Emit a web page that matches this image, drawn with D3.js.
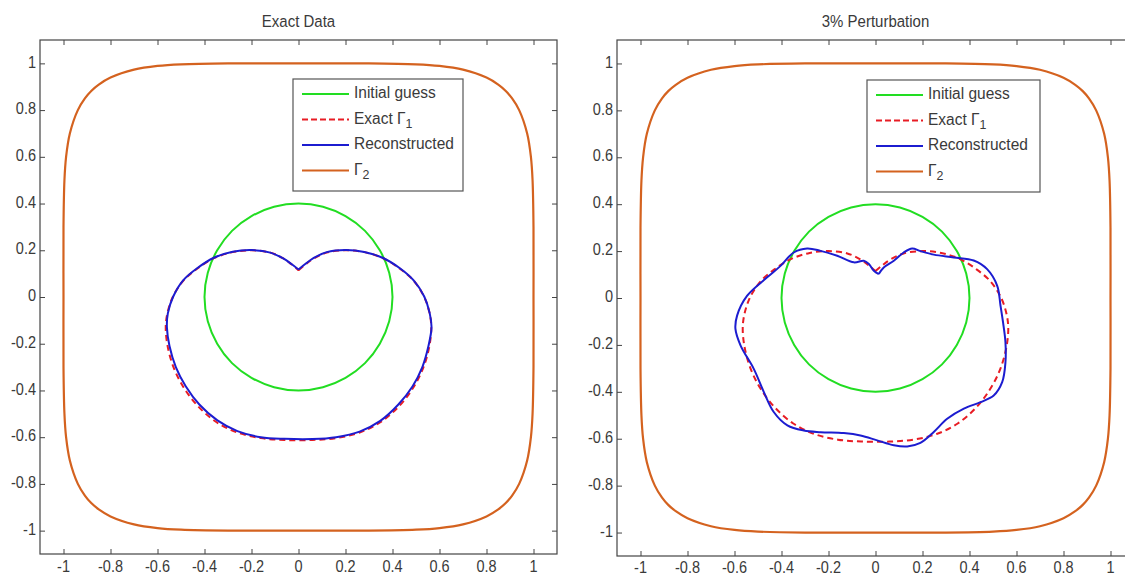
<!DOCTYPE html>
<html>
<head>
<meta charset="utf-8">
<script src="https://cdn.jsdelivr.net/npm/d3@7"></script>
<style>
html,body{margin:0;padding:0;background:#fff;}
svg{display:block;}
text{font-family:"Liberation Sans",Arial,Helvetica,sans-serif;fill:#3a3a3a;}
</style>
</head>
<body>
<svg id="chart" width="1125" height="576"></svg>
<script>
// ---------- data ----------
const panelTitles = ["Exact Data", "3% Perturbation"];
const tickValues = [-1, -0.8, -0.6, -0.4, -0.2, 0, 0.2, 0.4, 0.6, 0.8, 1];
const tickLabels = ["-1", "-0.8", "-0.6", "-0.4", "-0.2", "0", "0.2", "0.4", "0.6", "0.8", "1"];
const legendLabels = ["Initial guess", "Exact Γ|1", "Reconstructed", "Γ|2"];

const initialGuess = [
  [0.4,0],[0.386,0.104],[0.346,0.2],[0.283,0.283],[0.2,0.346],[0.104,0.386],
  [0,0.4],[-0.104,0.386],[-0.2,0.346],[-0.283,0.283],[-0.346,0.2],[-0.386,0.104],
  [-0.4,0],[-0.386,-0.104],[-0.346,-0.2],[-0.283,-0.283],[-0.2,-0.346],[-0.104,-0.386],
  [0,-0.4],[0.104,-0.386],[0.2,-0.346],[0.283,-0.283],[0.346,-0.2],[0.386,-0.104]
];

const gamma2 = [
  [1.00,0.00],[1.00,0.30],[0.996,0.50],[0.989,0.60],[0.973,0.70],[0.939,0.80],[0.909,0.85],
  [0.882,0.882],[0.85,0.909],[0.80,0.939],[0.70,0.973],[0.60,0.989],[0.50,0.996],[0.30,1.00],
  [0.00,1.00],[-0.30,1.00],[-0.50,0.996],[-0.60,0.989],[-0.70,0.973],[-0.80,0.939],[-0.85,0.909],
  [-0.882,0.882],[-0.909,0.85],[-0.939,0.80],[-0.973,0.70],[-0.989,0.60],[-0.996,0.50],[-1.00,0.30],
  [-1.00,0.00],[-1.00,-0.30],[-0.996,-0.50],[-0.989,-0.60],[-0.973,-0.70],[-0.939,-0.80],[-0.909,-0.85],
  [-0.882,-0.882],[-0.85,-0.909],[-0.80,-0.939],[-0.70,-0.973],[-0.60,-0.989],[-0.50,-0.996],[-0.30,-1.00],
  [0.00,-1.00],[0.30,-1.00],[0.50,-0.996],[0.60,-0.989],[0.70,-0.973],[0.80,-0.939],[0.85,-0.909],
  [0.882,-0.882],[0.909,-0.85],[0.939,-0.80],[0.973,-0.70],[0.989,-0.60],[0.996,-0.50],[1.00,-0.30]
];

const exactGamma1 = [
  [0.00,0.115],[0.03,0.140],[0.065,0.165],[0.12,0.190],[0.20,0.200],[0.28,0.192],[0.36,0.166],
  [0.43,0.122],[0.49,0.070],[0.535,0.000],[0.558,-0.07],[0.565,-0.13],[0.557,-0.21],[0.532,-0.30],
  [0.49,-0.385],[0.43,-0.465],[0.35,-0.535],[0.26,-0.580],[0.16,-0.604],[0.06,-0.612],
  [-0.06,-0.612],[-0.16,-0.604],[-0.26,-0.580],[-0.35,-0.535],[-0.43,-0.465],[-0.49,-0.385],
  [-0.532,-0.30],[-0.557,-0.21],[-0.565,-0.13],[-0.558,-0.07],[-0.535,0.000],[-0.49,0.070],
  [-0.43,0.122],[-0.36,0.166],[-0.28,0.192],[-0.20,0.200],[-0.12,0.190],[-0.065,0.165],
  [-0.03,0.140],[0.00,0.115]
];

const reconExact = [
  [0.00,0.118],[0.03,0.142],[0.065,0.167],[0.12,0.192],[0.20,0.201],[0.28,0.193],[0.36,0.167],
  [0.43,0.124],[0.49,0.071],[0.535,0.002],[0.558,-0.068],[0.566,-0.13],[0.553,-0.21],[0.527,-0.30],
  [0.485,-0.383],[0.425,-0.460],[0.348,-0.530],[0.26,-0.576],[0.16,-0.600],[0.06,-0.608],
  [-0.06,-0.607],[-0.16,-0.600],[-0.26,-0.574],[-0.345,-0.528],[-0.422,-0.460],[-0.48,-0.382],
  [-0.522,-0.300],[-0.549,-0.21],[-0.560,-0.13],[-0.556,-0.07],[-0.533,0.002],[-0.49,0.072],
  [-0.43,0.124],[-0.36,0.168],[-0.28,0.194],[-0.20,0.201],[-0.12,0.190],[-0.065,0.165],
  [-0.03,0.141],[0.00,0.118]
];

const reconPerturbed = [
  [0.014,0.102],[0.035,0.13],[0.078,0.159],[0.12,0.194],[0.156,0.211],[0.191,0.200],[0.248,0.185],
  [0.333,0.173],[0.418,0.160],[0.475,0.123],[0.518,0.052],[0.532,-0.033],[0.545,-0.12],[0.553,-0.189],
  [0.553,-0.274],[0.539,-0.359],[0.503,-0.416],[0.447,-0.444],[0.376,-0.472],[0.305,-0.515],
  [0.248,-0.571],[0.191,-0.618],[0.135,-0.633],[0.078,-0.628],[0.007,-0.607],[-0.064,-0.586],
  [-0.135,-0.576],[-0.234,-0.572],[-0.305,-0.565],[-0.375,-0.543],[-0.433,-0.486],[-0.475,-0.401],
  [-0.518,-0.302],[-0.574,-0.203],[-0.596,-0.132],[-0.589,-0.075],[-0.546,0.010],[-0.461,0.088],
  [-0.404,0.137],[-0.348,0.194],[-0.291,0.211],[-0.234,0.201],[-0.163,0.180],[-0.092,0.152],
  [-0.05,0.159],[-0.028,0.145],[-0.007,0.116],[0.014,0.102]
];

// ---------- layout / styles ----------
const colors = {init:"#22dd22", exact:"#e81c24", recon:"#1c1cd0", g2:"#d4621f"};
const panels = [
  {x0:40, x1:557, y0:40, y1:554, labelY:568, title:panelTitles[0], recon:reconExact,
   legend:{x:293, y:79, w:170, h:112}},
  {x0:617, x1:1134, y0:40, y1:556, labelY:569, title:panelTitles[1], recon:reconPerturbed,
   legend:{x:867, y:80, w:173, h:112}}
];
const TEXT_SY = 1.1;
const svg = d3.select("#chart");

function addText(g, x, y, str, size, anchor, baseline){
  const t = g.append("text")
    .attr("transform", `translate(${x},${y}) scale(1,${TEXT_SY})`)
    .attr("font-size", size).attr("text-anchor", anchor)
    .attr("dominant-baseline", baseline || "middle");
  const parts = str.split("|");
  t.append("tspan").text(parts[0]);
  if (parts.length > 1) {
    t.append("tspan").attr("dy", 5).attr("font-size", size*0.8).text(parts[1]);
  }
  return t;
}

panels.forEach((p, pi) => {
  const g = svg.append("g");
  const x = d3.scaleLinear().domain([-1.1, 1.1]).range([p.x0, p.x1]);
  const y = d3.scaleLinear().domain([-1.1, 1.1]).range([p.y1, p.y0]);

  // ticks (inside, all sides)
  const axColor = "#444";
  const style = a => { a.select(".domain").remove(); a.selectAll("line").attr("stroke", axColor); };
  g.append("g").attr("transform", `translate(0,${p.y1})`)
    .call(d3.axisBottom(x).tickValues(tickValues).tickSizeInner(-5).tickSizeOuter(0).tickFormat(() => "")).call(style);
  g.append("g").attr("transform", `translate(0,${p.y0})`)
    .call(d3.axisTop(x).tickValues(tickValues).tickSizeInner(-5).tickSizeOuter(0).tickFormat(() => "")).call(style);
  g.append("g").attr("transform", `translate(${p.x0},0)`)
    .call(d3.axisLeft(y).tickValues(tickValues).tickSizeInner(-5).tickSizeOuter(0).tickFormat(() => "")).call(style);
  g.append("g").attr("transform", `translate(${p.x1},0)`)
    .call(d3.axisRight(y).tickValues(tickValues).tickSizeInner(-5).tickSizeOuter(0).tickFormat(() => "")).call(style);

  // tick labels
  tickValues.forEach((v, i) => {
    addText(g, x(v), p.labelY, tickLabels[i], 14.5, "middle");
    addText(g, p.x0 - 4, y(v), tickLabels[i], 14.5, "end");
  });

  // box
  g.append("rect").attr("x", p.x0).attr("y", p.y0)
    .attr("width", p.x1 - p.x0).attr("height", p.y1 - p.y0)
    .attr("fill", "none").attr("stroke", "#444").attr("stroke-width", 1.2);

  // title
  addText(g, pi === 0 ? (p.x0 + p.x1) / 2 : x(0), 23, p.title, 15, "middle");

  const closed = d3.line().x(d => x(d[0])).y(d => y(d[1])).curve(d3.curveCatmullRomClosed.alpha(0.5));
  const open = d3.line().x(d => x(d[0])).y(d => y(d[1])).curve(d3.curveCatmullRom.alpha(0.5));

  g.append("path").attr("d", closed(initialGuess)).attr("fill", "none")
    .attr("stroke", colors.init).attr("stroke-width", 2);
  g.append("path").attr("d", open(exactGamma1)).attr("fill", "none")
    .attr("stroke", colors.exact).attr("stroke-width", 2).attr("stroke-dasharray", "6,4");
  g.append("path").attr("d", open(p.recon)).attr("fill", "none")
    .attr("stroke", colors.recon).attr("stroke-width", 2);
  g.append("path").attr("d", closed(gamma2)).attr("fill", "none")
    .attr("stroke", colors.g2).attr("stroke-width", 2.2);

  // legend
  const L = p.legend;
  const lg = g.append("g");
  lg.append("rect").attr("x", L.x).attr("y", L.y).attr("width", L.w).attr("height", L.h)
    .attr("fill", "#fff").attr("stroke", "#555").attr("stroke-width", 1.2);
  const styles = [
    {c:colors.init, dash:null}, {c:colors.exact, dash:"6,3"},
    {c:colors.recon, dash:null}, {c:colors.g2, dash:null}
  ];
  legendLabels.forEach((lab, i) => {
    const yy = L.y + 15 + i * 25.5;
    lg.append("line").attr("x1", L.x + 9).attr("x2", L.x + 56).attr("y1", yy).attr("y2", yy)
      .attr("stroke", styles[i].c).attr("stroke-width", 2)
      .attr("stroke-dasharray", styles[i].dash);
    addText(lg, L.x + 61, yy, lab, 15.5, "start");
  });
});
</script>
</body>
</html>
